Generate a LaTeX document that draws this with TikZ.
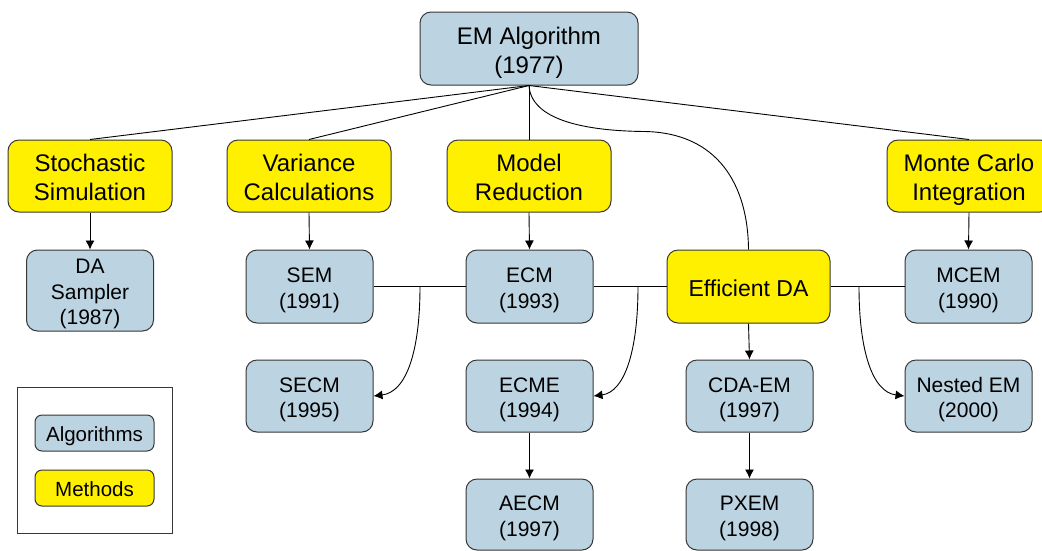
\documentclass[tikz,border=0pt]{standalone}
\usepackage{fontspec}
\setmainfont{Liberation Sans}
\usetikzlibrary{arrows.meta}
\definecolor{algblue}{RGB}{188,212,226}
\definecolor{methyel}{RGB}{255,240,0}
\definecolor{edgegray}{RGB}{55,55,55}
\begin{document}
\begin{tikzpicture}[x=1pt,y=-1pt,
  box/.style={draw=edgegray,line width=1pt,rounded corners=11pt,align=center,inner sep=0pt},
  alg/.style={box,fill=algblue,font=\fontsize{21}{25.5}\selectfont,minimum width=127pt,minimum height=73pt,text height=47pt,text depth=4pt},
  algthree/.style={alg,text height=72.5pt,text depth=4pt},
  meth/.style={box,fill=methyel,font=\fontsize{24}{29}\selectfont,minimum width=164pt,minimum height=72pt,text height=53.5pt,text depth=4.5pt},
  methone/.style={meth,font=\fontsize{23}{27.6}\selectfont,text height=23.3pt,text depth=4.3pt},
  legitem/.style={box,rounded corners=7pt,font=\fontsize{20.5}{24.6}\selectfont,minimum width=119pt,minimum height=36pt,text height=20.5pt,text depth=4pt},
  conn/.style={draw=black,line width=0.9pt},
  arr/.style={conn,-{Latex[length=9pt,width=9pt]}},
]
\useasboundingbox (0,0) rectangle (1042,550);
\clip (0,0) rectangle (1042,550);

\node[box,fill=algblue,font=\fontsize{24}{29}\selectfont,minimum width=218pt,minimum height=73pt,text height=53.5pt,text depth=4.5pt] (em) at (529,48.5) {EM Algorithm\\(1977)};

\node[meth] (stoch) at (90,176) {Stochastic\\Simulation};
\node[meth] (var) at (309,176) {Variance\\Calculations};
\node[meth] (model) at (529,176) {Model\\Reduction};
\node[meth] (mc) at (969,176) {Monte Carlo\\Integration};

\node[algthree,minimum height=81pt] (da) at (90,290.5) {DA\\Sampler\\(1987)};
\node[alg] (sem) at (309.5,286.5) {SEM\\(1991)};
\node[alg] (ecm) at (529.5,286.5) {ECM\\(1993)};
\node[methone,minimum width=163pt,minimum height=73pt] (eda) at (748.5,286.5) {Efficient DA};
\node[alg] (mcem) at (968.5,286.5) {MCEM\\(1990)};

\node[alg,minimum height=72pt] (secm) at (309.5,396) {SECM\\(1995)};
\node[alg,minimum height=72pt] (ecme) at (529.5,396) {ECME\\(1994)};
\node[alg,minimum height=72pt] (cdaem) at (749.5,396) {CDA-EM\\(1997)};
\node[alg,minimum height=72pt] (nested) at (968.5,396) {Nested EM\\(2000)};

\node[alg,minimum height=71pt] (aecm) at (529.5,514.5) {AECM\\(1997)};
\node[alg,minimum height=71pt] (pxem) at (749.5,514.5) {PXEM\\(1998)};

% legend
\node[draw=edgegray,line width=1pt,minimum width=155pt,minimum height=146pt,inner sep=0pt] (legend) at (94.5,460) {};
\node[legitem,fill=algblue] (legA) at (94.5,433) {Algorithms};
\node[legitem,fill=methyel] (legM) at (94.5,488) {Methods};

% connectors from EM
\draw[conn] (em.south) -- (stoch.north);
\draw[conn] (em.south) -- (var.north);
\draw[conn] (em.south) -- (model.north);
\draw[conn] (em.south) -- (mc.north);
\draw[conn] (em.south) .. controls (531,120) and (585,131) .. (645,131.5)
  .. controls (718,133) and (748,185) .. (eda.north);

% method to algorithm arrows
\draw[arr] (stoch.south) -- (da.north);
\draw[arr] (var.south) -- (sem.north);
\draw[arr] (model.south) -- (ecm.north);
\draw[arr] (mc.south) -- (mcem.north);
\draw[arr] (eda.south) -- (cdaem.north);
\draw[arr] (cdaem.south) -- (pxem.north);
\draw[arr] (ecme.south) -- (aecm.north);

% horizontal links
\draw[conn] (sem.east) -- (ecm.west);
\draw[conn] (ecm.east) -- (eda.west);
\draw[conn] (eda.east) -- (mcem.west);

\coordinate (b1) at (420,286.5);
\coordinate (b2) at (638,286.5);
\coordinate (b3) at (859,286.5);
\draw[arr] (b1) .. controls (420,350) and (407,392) .. (secm.east);
\draw[arr] (b2) .. controls (638,350) and (625,392) .. (ecme.east);
\draw[arr] (b3) .. controls (859,350) and (872,392) .. (nested.west);
\end{tikzpicture}
\end{document}
